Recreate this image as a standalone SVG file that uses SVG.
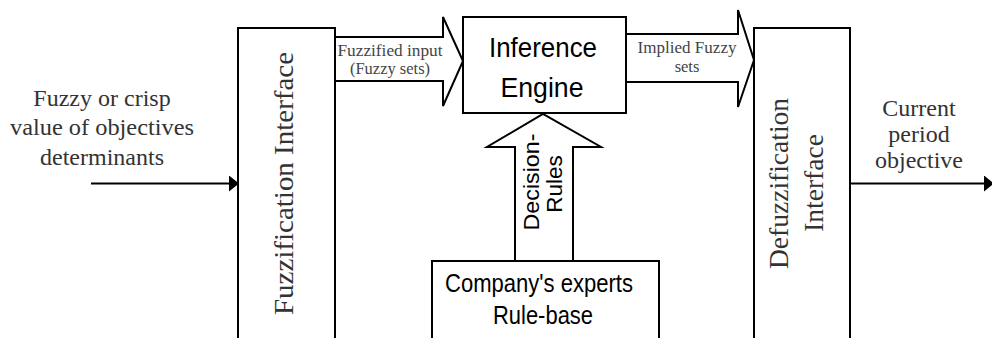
<svg xmlns="http://www.w3.org/2000/svg" width="992" height="338" viewBox="0 0 992 338">
<style>
.box{fill:#fff;stroke:#000;stroke-width:2}
.big{fill:#fff;stroke:#000;stroke-width:2;stroke-linejoin:miter}
.line{fill:none;stroke:#000;stroke-width:2.2}
.serif{font-family:"Liberation Serif","DejaVu Serif",serif;fill:#333}
.sans{font-family:"Liberation Sans",Arial,sans-serif;fill:#000}
.small{font-family:"Liberation Serif","DejaVu Serif",serif;fill:#444;font-size:16.5px}
</style>
<defs>
<marker id="ah" markerWidth="10" markerHeight="16" refX="9" refY="8" orient="auto" markerUnits="userSpaceOnUse">
<path d="M0,0 L10,8 L0,16 Z" fill="#000"/>
</marker>
</defs>
<rect width="992" height="338" fill="#fff"/>

<g id="connectors">
<line class="line" x1="91" y1="183.5" x2="238" y2="183.5" marker-end="url(#ah)"/>
<line class="line" x1="850" y1="183.5" x2="993" y2="183.5" marker-end="url(#ah)"/>
<path id="fuzzified-arrow" class="big" d="M335,37 L443,37 L443,17 L463,61 L443,106 L443,81 L335,81"/>
<path id="implied-arrow" class="big" d="M626,34 L738,34 L738,10 L754,60 L738,107 L738,82 L626,82"/>
<path id="decision-arrow" class="big" d="M515,260 L515,147 L487,147 L543,114 L601,147 L573,147 L573,260"/>
<text class="small" x="390" y="56" text-anchor="middle" textLength="105" lengthAdjust="spacingAndGlyphs">Fuzzified input</text>
<text class="small" x="390" y="74" text-anchor="middle">(Fuzzy sets)</text>
<text class="small" x="687" y="53" text-anchor="middle" textLength="99" lengthAdjust="spacingAndGlyphs">Implied Fuzzy</text>
<text class="small" x="687" y="72" text-anchor="middle">sets</text>
<text class="sans" font-size="22.5" transform="translate(539,182) rotate(-90)" text-anchor="middle" textLength="97" lengthAdjust="spacingAndGlyphs">Decision-</text>
<text class="sans" font-size="22.5" transform="translate(562,184) rotate(-90)" text-anchor="middle">Rules</text>
</g>

<g id="input-label">
<text class="serif" font-size="24" x="102" y="106" text-anchor="middle">Fuzzy or crisp</text>
<text class="serif" font-size="24" x="102" y="135" text-anchor="middle" textLength="184" lengthAdjust="spacingAndGlyphs">value of objectives</text>
<text class="serif" font-size="24" x="102" y="165" text-anchor="middle">determinants</text>
</g>

<g id="fuzzification">
<rect class="box" x="238" y="28" width="97" height="320"/>
<text class="serif" font-size="28" transform="translate(293,183.5) rotate(-90)" text-anchor="middle" textLength="263" lengthAdjust="spacingAndGlyphs">Fuzzification Interface</text>
</g>

<g id="inference">
<rect class="box" x="463" y="17" width="163" height="96"/>
<text class="sans" font-size="28" x="543" y="57" text-anchor="middle" textLength="108" lengthAdjust="spacingAndGlyphs">Inference</text>
<text class="sans" font-size="28" x="542" y="97" text-anchor="middle" textLength="83" lengthAdjust="spacingAndGlyphs">Engine</text>
</g>

<g id="rulebase">
<rect class="box" x="432" y="261" width="227" height="90"/>
<text class="sans" font-size="26" x="539" y="292" text-anchor="middle" textLength="188" lengthAdjust="spacingAndGlyphs">Company's experts</text>
<text class="sans" font-size="26" x="543" y="324" text-anchor="middle" textLength="100" lengthAdjust="spacingAndGlyphs">Rule-base</text>
</g>

<g id="defuzzification">
<rect class="box" x="754" y="28" width="96" height="320"/>
<text class="serif" font-size="27.5" transform="translate(788,183.5) rotate(-90)" text-anchor="middle">Defuzzification</text>
<text class="serif" font-size="27.5" transform="translate(823,183) rotate(-90)" text-anchor="middle">Interface</text>
</g>

<g id="output-label">
<text class="serif" font-size="24" x="919" y="116" text-anchor="middle">Current</text>
<text class="serif" font-size="24" x="919" y="142" text-anchor="middle">period</text>
<text class="serif" font-size="24" x="919" y="168" text-anchor="middle">objective</text>
</g>
</svg>
